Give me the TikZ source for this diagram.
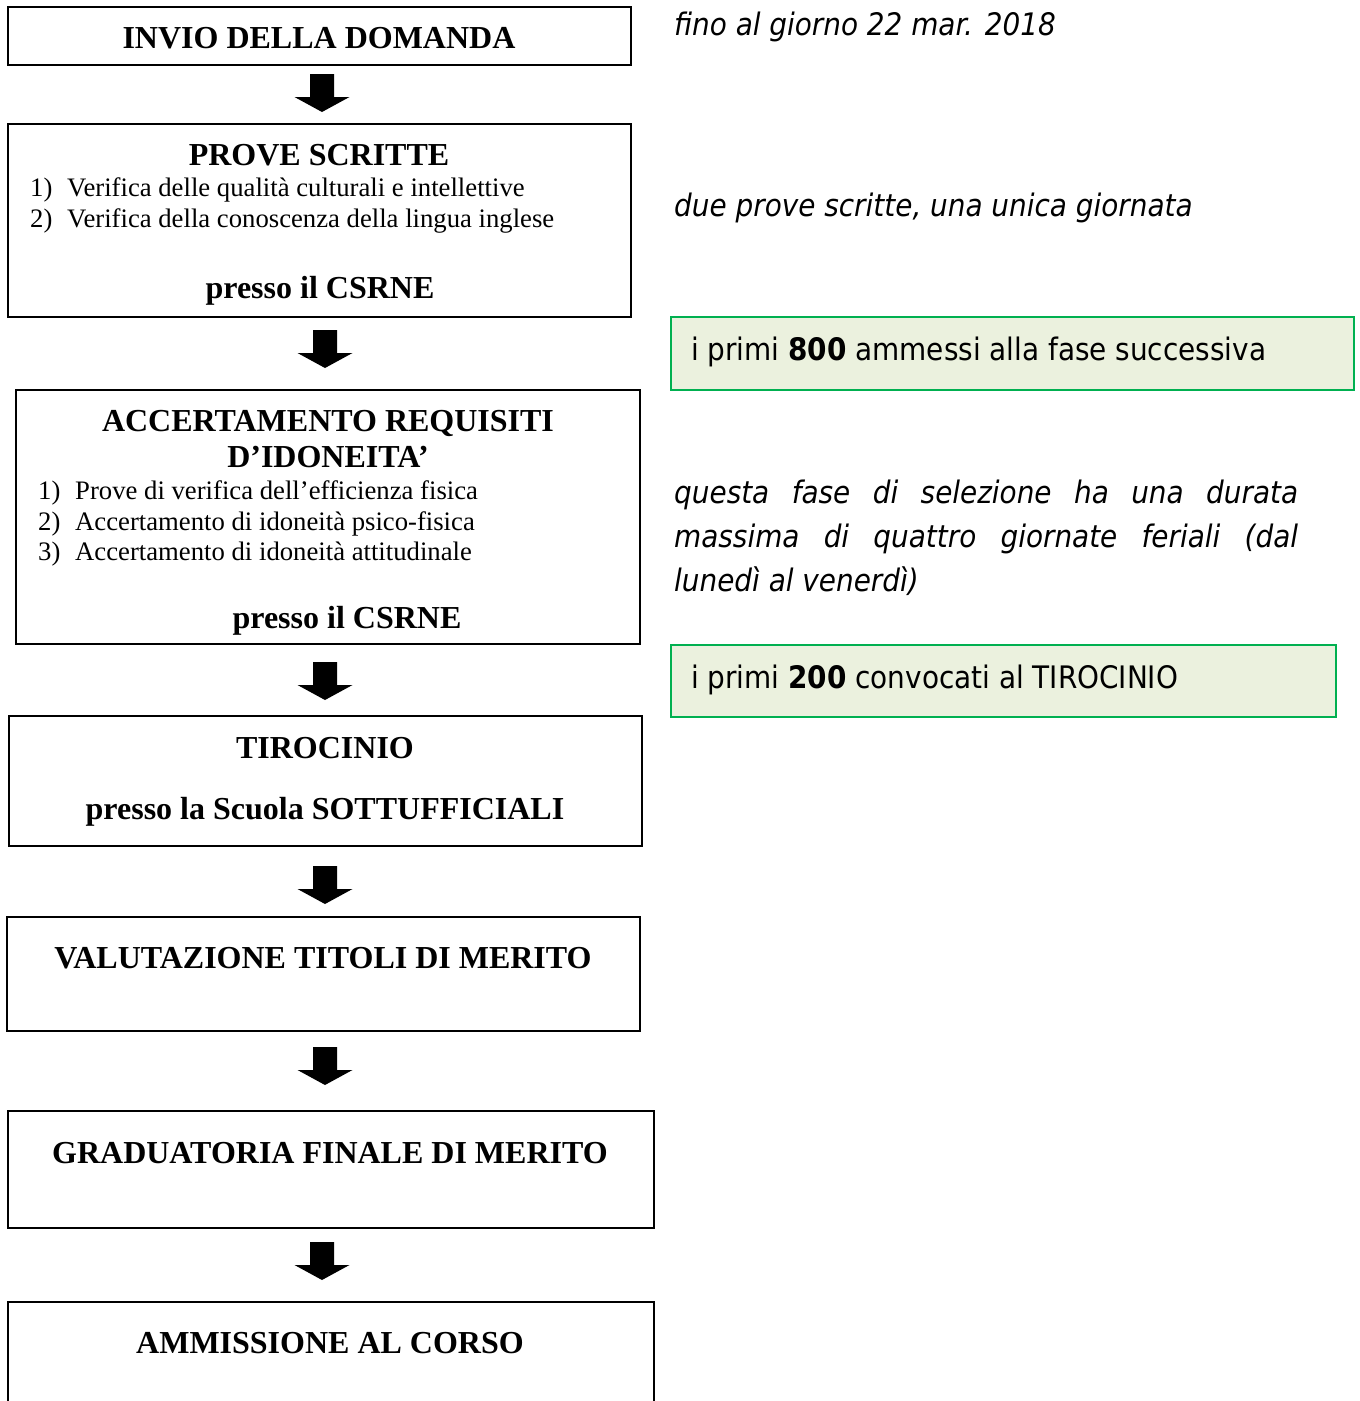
\documentclass[tikz,border=0pt]{standalone}
\usepackage{fontspec}
\setmainfont{Liberation Serif}
\newfontfamily\tah{DejaVu Sans Condensed}
\usetikzlibrary{calc}
\definecolor{gfill}{HTML}{EBF1DE}
\definecolor{gline}{HTML}{00B050}
\tikzset{
 box/.style={draw=black, line width=2pt, inner sep=0pt},
 gbox/.style={draw=gline, fill=gfill, line width=2pt, inner sep=0pt},
 ttl/.style={font=\fontsize{32}{36}\selectfont\bfseries, inner sep=0pt, anchor=base},
 itm/.style={font=\fontsize{26.7}{30}\selectfont, inner sep=0pt, anchor=base west},
 side/.style={font=\tah\fontsize{31}{35}\selectfont\itshape, inner sep=0pt, anchor=base west},
 gtxt/.style={font=\tah\fontsize{31}{35}\selectfont, inner sep=0pt, anchor=base west},
 arr/.style={fill=black},
}
\newcommand\blockarr[3]{%
 \coordinate (#1) at (#2,#3);
 \fill[arr] ($(#1)+(-12,0)$) -- ($(#1)+(12,0)$) -- ($(#1)+(12,23)$) -- ($(#1)+(27.5,23)$) -- ($(#1)+(0,38)$) -- ($(#1)+(-27.5,23)$) -- ($(#1)+(-12,23)$) -- cycle;
}
\begin{document}
\begin{tikzpicture}[x=1pt,y=-1pt]
\useasboundingbox (0,0) rectangle (1360,1401);
\clip (0,0) rectangle (1360,1401);
\fill[white] (0,0) rectangle (1360,1401);
% boxes
\node[box, minimum width=623pt, minimum height=58pt] (b1) at (319.5,36) {};
\node[box, minimum width=623pt, minimum height=193pt] (b2) at (319.5,220.5) {};
\node[box, minimum width=624pt, minimum height=254pt] (b3) at (328,517) {};
\node[box, minimum width=633pt, minimum height=130pt] (b4) at (325.5,781) {};
\node[box, minimum width=633pt, minimum height=114pt] (b5) at (323.5,974) {};
\node[box, minimum width=646pt, minimum height=117pt] (b6) at (331,1169.5) {};
\node[box, minimum width=646pt, minimum height=158pt] (b7) at (331,1381) {};
% arrows
\blockarr{a1}{322}{74}
\blockarr{a2}{325}{330}
\blockarr{a3}{325}{662}
\blockarr{a4}{325}{866}
\blockarr{a5}{325}{1047}
\blockarr{a6}{322}{1242}
% box texts
\node[ttl] (t1) at (319,48) {INVIO DELLA DOMANDA};
\node[ttl] (t2) at (319,165) {PROVE SCRITTE};
\node[itm] (n21) at (30,196) {1)};
\node[itm] (i21) at (67,196) {Verifica delle qualità culturali e intellettive};
\node[itm] (n22) at (30,227) {2)};
\node[itm] (i22) at (67,227) {Verifica della conoscenza della lingua inglese};
\node[ttl] (p2) at (320,298) {presso il CSRNE};
\node[ttl] (t3a) at (328,431) {ACCERTAMENTO REQUISITI};
\node[ttl] (t3b) at (328,467) {D’IDONEITA’};
\node[itm] (n31) at (38,499) {1)};
\node[itm] (i31) at (75,499) {Prove di verifica dell’efficienza fisica};
\node[itm] (n32) at (38,530) {2)};
\node[itm] (i32) at (75,530) {Accertamento di idoneità psico-fisica};
\node[itm] (n33) at (38,560) {3)};
\node[itm] (i33) at (75,560) {Accertamento di idoneità attitudinale};
\node[ttl] (p3) at (347,628) {presso il CSRNE};
\node[ttl] (t4) at (325,758) {TIROCINIO};
\node[ttl] (p4) at (325,819) {presso la Scuola SOTTUFFICIALI};
\node[ttl] (t5) at (323,968) {VALUTAZIONE TITOLI DI MERITO};
\node[ttl] (t6) at (330,1163) {GRADUATORIA FINALE DI MERITO};
\node[ttl] (t7) at (330,1353) {AMMISSIONE AL CORSO};
% side notes
\node[side] (s1) at (674,35) {fino al giorno 22 mar. 2018};
\node[side] (s2) at (674,216) {due prove scritte, una unica giornata};
\node[gbox, minimum width=683pt, minimum height=73pt] (g1) at (1012.5,353.5) {};
\node[gtxt] (g1t) at (691,360) {i primi \textbf{800} ammessi alla fase successiva};
\node[side] (l1) at (674,503) {\makebox[624pt][s]{questa fase di selezione ha una durata}};
\node[side] (l2) at (674,547) {\makebox[624pt][s]{massima di quattro giornate feriali (dal}};
\node[side] (l3) at (674,591) {lunedì al venerdì)};
\node[gbox, minimum width=665pt, minimum height=72pt] (g2) at (1003.5,681) {};
\node[gtxt] (g2t) at (691,688) {i primi \textbf{200} convocati al TIROCINIO};
\end{tikzpicture}
\end{document}
